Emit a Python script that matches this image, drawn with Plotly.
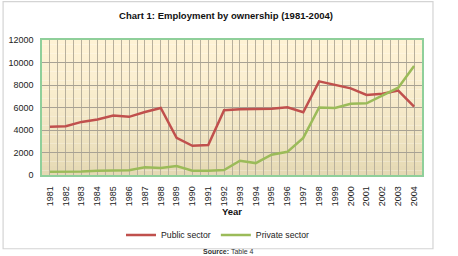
import plotly.graph_objects as go

years = [str(y) for y in range(1981, 2005)]
public_sector = [4300, 4330, 4720, 4930, 5280, 5170, 5600, 5960, 3300, 2600, 2660, 5760,
                 5850, 5880, 5900, 6020, 5580, 8320, 8030, 7700, 7120, 7230, 7500, 6080]
private_sector = [300, 300, 320, 380, 400, 420, 680, 620, 800, 380, 380, 440,
                  1270, 1060, 1800, 2060, 3300, 6000, 5960, 6340, 6370, 7050, 7760, 9680]
y_ticks = [0, 2000, 4000, 6000, 8000, 10000, 12000]
y_tick_labels = ["0", "2000", "4000", "6000", "8000", "10000", "12000"]

xnum = [int(y) for y in years]
FONT = "Liberation Sans"

fig = go.Figure()
fig.add_trace(go.Scatter(x=xnum, y=public_sector, mode="lines", name="Public sector",
                         line=dict(color="#C0504D", width=2.5)))
fig.add_trace(go.Scatter(x=xnum, y=private_sector, mode="lines", name="Private sector",
                         line=dict(color="#9BBB59", width=2.5)))

# gradient background bands
shapes = []
n = 30
top = (254, 242, 212)
bot = (229, 217, 180)
for i in range(n):
    t = i / (n - 1)
    t2 = t ** 1.6
    c = tuple(int(round(top[k] + (bot[k] - top[k]) * t2)) for k in range(3))
    shapes.append(dict(type="rect", xref="x domain", yref="y domain",
                       x0=0, x1=1, y0=1 - (i + 1) / n, y1=1 - i / n,
                       fillcolor="rgb(%d,%d,%d)" % c, line=dict(width=0), layer="below"))
# chart frame
shapes.append(dict(type="rect", xref="paper", yref="paper",
                   x0=-39 / 381, x1=392 / 381, y0=-74 / 135.5, y1=1 + 38.5 / 135.5,
                   line=dict(color="#D4D4D4", width=1.2), fillcolor="rgba(0,0,0,0)", layer="below"))

fig.update_layout(
    width=458, height=256,
    margin=dict(l=42, r=35.5, t=39.5, b=81, autoexpand=False),
    paper_bgcolor="white", plot_bgcolor="rgba(0,0,0,0)",
    shapes=shapes,
    font=dict(family=FONT, color="#222222"),
    title=dict(text="<b>Chart 1: Employment by ownership (1981-2004)</b>",
               x=226 / 458, xanchor="center", y=1 - 15.5 / 256, yanchor="middle",
               font=dict(size=9.5, family=FONT, color="#111111")),
    showlegend=True,
    legend=dict(orientation="h", x=218 / 458, xref="container", xanchor="center",
                y=1 - 235 / 256, yref="container", yanchor="middle",
                font=dict(size=8.7, family=FONT, color="#222222"),
                itemwidth=30, tracegroupgap=0, bgcolor="rgba(0,0,0,0)"),
)

fig.update_xaxes(
    range=[1980.5, 2004.5], tickmode="array", tickvals=xnum, ticktext=years,
    tickangle=-90, tickfont=dict(size=9, family=FONT, color="#222222"),
    showgrid=True, gridcolor="#B8B09C", gridwidth=0.8,
    minor=dict(tick0=1980.5, dtick=1, showgrid=True, gridcolor="#B8B09C", gridwidth=0.8),
    showline=True, mirror=True, linecolor="#8FCF9A", linewidth=1.5,
    ticks="outside", ticklen=6, tickcolor="rgba(0,0,0,0)", zeroline=False, automargin=False,
    title=dict(text="<b>Year</b>", font=dict(size=9.5, family=FONT, color="#111111"), standoff=3),
)
fig.update_yaxes(
    range=[0, 12000], tickmode="array", tickvals=y_ticks, ticktext=y_tick_labels,
    tickfont=dict(size=9, family=FONT, color="#222222"),
    showgrid=True, gridcolor="#A8A294", gridwidth=1,
    showline=True, mirror=True, linecolor="#8FCF9A", linewidth=1.5,
    ticks="outside", ticklen=5, tickcolor="rgba(0,0,0,0)", zeroline=False, automargin=False,
)

fig.add_annotation(text="<b>Source:</b> Table 4", xref="paper", yref="paper",
                   x=187 / 381, y=(175 - 252) / 135.5, xanchor="center", yanchor="middle",
                   showarrow=False, font=dict(size=7, family=FONT, color="#333333"))

fig.write_html("out.html")
